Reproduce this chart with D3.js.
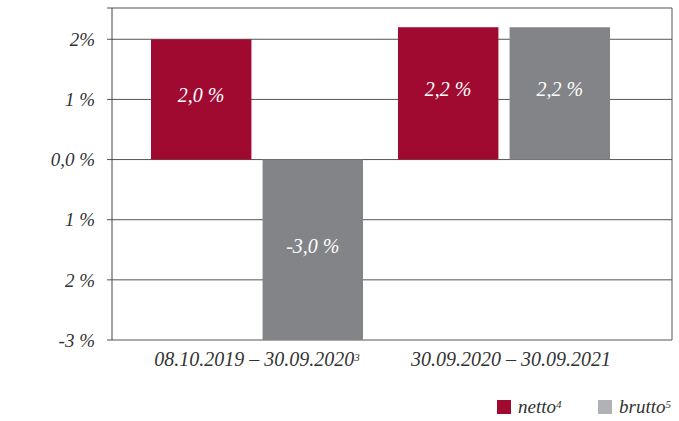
<!DOCTYPE html>
<html>
<head>
<meta charset="utf-8">
<script src="https://cdn.jsdelivr.net/npm/d3@7"></script>
<style>
  body { margin: 0; background: #fff; }
  text { font-family: "Liberation Serif", "DejaVu Serif", serif; font-style: italic; }
</style>
</head>
<body>
<div id="chart"></div>
<script>
const W = 679, H = 421;

const periods = ["08.10.2019 – 30.09.2020", "30.09.2020 – 30.09.2021"];
const periodSup = ["3", ""];
const series = ["netto", "brutto"];
const seriesSup = ["4", "5"];
const nettoValues = [2.0, 2.2];
const bruttoValues = [-3.0, 2.2];
const barLabels = [["2,0 %", "-3,0 %"], ["2,2 %", "2,2 %"]];
const yTicks = [2, 1, 0, -1, -2, -3];
const yTickLabels = ["2%", "1 %", "0,0 %", "1 %", "2 %", "-3 %"];

const colors = { netto: "#a00a30", brutto: "#838488" };
const legendColors = { netto: "#a00a30", brutto: "#b1b2b5" };

const plot = { left: 112, right: 672, top: 8, bottom: 340 };

const svg = d3.select("#chart").append("svg")
    .attr("width", W)
    .attr("height", H);

const y = d3.scaleLinear()
    .domain([-3, 2.52])
    .range([plot.bottom, plot.top]);

const x0 = d3.scaleBand()
    .domain(periods)
    .range([133.5, 627.5])
    .paddingInner(0);

const x1 = d3.scaleBand()
    .domain(series)
    .range([17.5, x0.bandwidth() - 17.5])
    .paddingInner(0.1);

// grid lines + frame
svg.append("g")
    .selectAll("line")
    .data(yTicks)
    .enter()
    .append("line")
    .attr("x1", plot.left - 5)
    .attr("x2", plot.right)
    .attr("y1", (d) => y(d))
    .attr("y2", (d) => y(d))
    .attr("stroke", "#555")
    .attr("stroke-width", 1);

svg.append("line")
    .attr("x1", plot.left - 5).attr("x2", plot.right)
    .attr("y1", plot.top).attr("y2", plot.top)
    .attr("stroke", "#555");

svg.append("line")
    .attr("x1", plot.right).attr("x2", plot.right)
    .attr("y1", plot.top).attr("y2", plot.bottom)
    .attr("stroke", "#555");

// bars
const rows = periods.map((p, i) => ({
    period: p,
    values: [
        { key: "netto", value: nettoValues[i], label: barLabels[i][0] },
        { key: "brutto", value: bruttoValues[i], label: barLabels[i][1] },
    ],
}));

const groups = svg.append("g")
    .selectAll("g")
    .data(rows)
    .enter()
    .append("g")
    .attr("transform", (d) => `translate(${x0(d.period)},0)`);

groups.selectAll("rect")
    .data((d) => d.values)
    .enter()
    .append("rect")
    .attr("x", (d) => x1(d.key))
    .attr("width", x1.bandwidth())
    .attr("y", (d) => y(Math.max(0, d.value)))
    .attr("height", (d) => Math.abs(y(d.value) - y(0)))
    .attr("fill", (d) => colors[d.key]);

groups.selectAll("text.val")
    .data((d) => d.values)
    .enter()
    .append("text")
    .attr("class", "val")
    .attr("x", (d) => x1(d.key) + x1.bandwidth() / 2)
    .attr("y", (d) => (y(d.value) + y(0)) / 2 - 4)
    .attr("dy", "0.35em")
    .attr("text-anchor", "middle")
    .attr("fill", "#fff")
    .style("font-size", "20px")
    .text((d) => d.label);

// left axis line
svg.append("line")
    .attr("x1", plot.left).attr("x2", plot.left)
    .attr("y1", plot.top).attr("y2", plot.bottom)
    .attr("stroke", "#444");

// y tick labels
svg.append("g")
    .selectAll("text")
    .data(yTicks)
    .enter()
    .append("text")
    .attr("x", 95)
    .attr("y", (d) => y(d))
    .attr("dy", "0.35em")
    .attr("text-anchor", "end")
    .attr("fill", "#333")
    .style("font-size", "19px")
    .text((d, i) => yTickLabels[i]);

// x labels
const xl = svg.append("g")
    .selectAll("text")
    .data(periods)
    .enter()
    .append("text")
    .attr("x", (d, i) => x0(d) + x0.bandwidth() / 2 + (i ? 7 : 0))
    .attr("y", 366)
    .attr("text-anchor", "middle")
    .attr("fill", "#333")
    .style("font-size", "20px");

xl.append("tspan").text((d) => d);
xl.append("tspan")
    .attr("dy", "-0.45em")
    .style("font-size", "11px")
    .text((d, i) => periodSup[i]);

// legend
const legendX = [497, 598];
const legend = svg.append("g")
    .selectAll("g")
    .data(series)
    .enter()
    .append("g")
    .attr("transform", (d, i) => `translate(${legendX[i]},400)`);

legend.append("rect")
    .attr("width", 14)
    .attr("height", 14)
    .attr("fill", (d) => legendColors[d]);

const lt = legend.append("text")
    .attr("x", 21)
    .attr("y", 13)
    .attr("fill", "#333")
    .style("font-size", "19px");
lt.append("tspan").text((d) => d);
lt.append("tspan")
    .attr("dy", "-0.45em")
    .style("font-size", "11px")
    .text((d, i) => seriesSup[i]);
</script>
</body>
</html>
